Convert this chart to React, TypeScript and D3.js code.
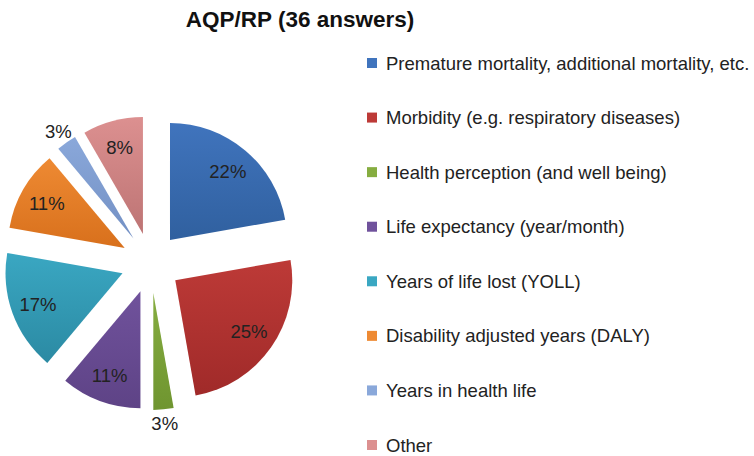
import React from "react";
import * as d3 from "d3";

const categories = [
  "Premature mortality, additional mortality, etc.",
  "Morbidity (e.g. respiratory diseases)",
  "Health perception (and well being)",
  "Life expectancy (year/month)",
  "Years of life lost (YOLL)",
  "Disability adjusted years (DALY)",
  "Years in health life",
  "Other",
];
const answers = [8, 9, 1, 4, 6, 4, 1, 3];
const colorsTop = ["#4074bd", "#bd3a37", "#86ad40", "#70529c", "#3aa7c2", "#ee8a33", "#8aa8da", "#dc9090"];
const colorsBottom = ["#30609f", "#a02a29", "#6f9530", "#5e4386", "#2b8aa3", "#d8701c", "#7390c4", "#bd7474"];

const W = 754;
const H = 456;
const cx = 150.7;
const cy = 263;
const R = 117;
const explode = 30;

export default function App() {
  const total = d3.sum(answers);
  const pie = d3.pie<number>().sort(null).value((d) => d);
  const arcs = pie(answers);
  const arcGen = d3.arc<d3.PieArcDatum<number>>().innerRadius(0).outerRadius(R);
  const fmt = (v: number) => `${Math.round((v / total) * 100)}%`;
  const legendY = d3.scaleLinear().domain([0, 7]).range([63, 445]);

  return (
    <svg width={W} height={H} style={{ position: "absolute", left: 0, top: 0 }} fontFamily="'Liberation Sans', Arial, sans-serif">
      <defs>
        {colorsTop.map((c, i) => (
          <linearGradient key={i} id={`g${i}`} x1="0" y1="0" x2="0" y2="1">
            <stop offset="0%" stopColor={c} />
            <stop offset="100%" stopColor={colorsBottom[i]} />
          </linearGradient>
        ))}
      </defs>
      <rect width={W} height={H} fill="#fff" />
      <text x={300} y={27} textAnchor="middle" fontWeight="bold" fontSize={22.5} fill="#111">
        AQP/RP (36 answers)
      </text>
      {arcs.map((a, i) => {
        const mid = (a.startAngle + a.endAngle) / 2;
        const ox = cx + explode * Math.sin(mid);
        const oy = cy - explode * Math.cos(mid);
        const small = a.value / total < 0.05;
        const lr = small ? 131 : 90;
        const lx = ox + lr * Math.sin(mid);
        const ly = oy - lr * Math.cos(mid);
        return (
          <g key={i}>
            <path d={arcGen(a) || ""} transform={`translate(${ox},${oy})`} fill={`url(#g${i})`} />
            <text x={lx} y={ly} textAnchor="middle" dominantBaseline="central" fontSize={18.5} fill="#222">
              {fmt(a.value)}
            </text>
          </g>
        );
      })}
      {categories.map((c, i) => (
        <g key={c} transform={`translate(0,${legendY(i)})`}>
          <rect x={367} y={-5} width={10} height={10} fill={colorsTop[i]} />
          <text x={386} y={0} dominantBaseline="central" fontSize={18.5} fill="#222">
            {c}
          </text>
        </g>
      ))}
    </svg>
  );
}
